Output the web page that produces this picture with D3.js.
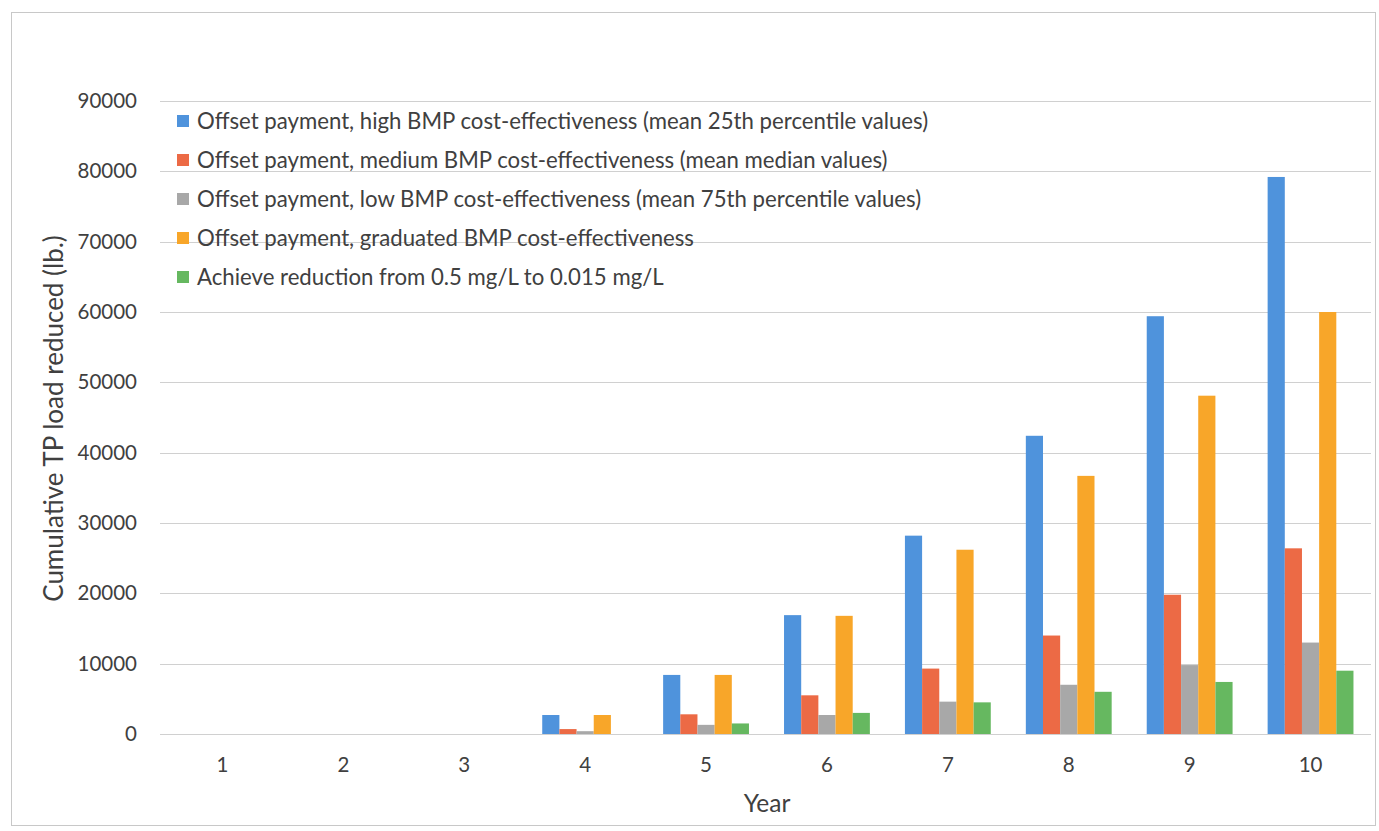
<!DOCTYPE html>
<html>
<head>
<meta charset="utf-8">
<script src="https://cdn.jsdelivr.net/npm/d3@7.9.0/dist/d3.min.js"></script>
<style>
  body { margin: 0; background: #fff; }
  svg text { font-family: Lato, "Open Sans", sans-serif; fill: #404040; }
</style>
</head>
<body>
<svg id="chart" width="1379" height="831"></svg>
<script>
// years along the x axis
const years = ['1', '2', '3', '4', '5', '6', '7', '8', '9', '10'];

// series labels (legend order)
const seriesNames = [
  'Offset payment, high BMP cost-effectiveness (mean 25th percentile values)',
  'Offset payment, medium BMP cost-effectiveness (mean median values)',
  'Offset payment, low BMP cost-effectiveness (mean 75th percentile values)',
  'Offset payment, graduated BMP cost-effectiveness',
  'Achieve reduction from 0.5 mg/L to 0.015 mg/L'
];
const seriesColors = ['#4f93dc', '#ec6a45', '#a8a8a8', '#f8a629', '#66b860'];

// cumulative TP load reduced (lb.)
const highValues      = [0, 0, 0, 2700, 8400, 16900, 28200, 42400, 59400, 79200];
const mediumValues    = [0, 0, 0, 700, 2800, 5500, 9300, 14000, 19800, 26400];
const lowValues       = [0, 0, 0, 400, 1300, 2700, 4600, 7000, 9800, 13000];
const graduatedValues = [0, 0, 0, 2700, 8400, 16800, 26200, 36700, 48100, 60000];
const achieveValues   = [0, 0, 0, 0, 1500, 3000, 4500, 6000, 7400, 9000];

const yTicks = [0, 10000, 20000, 30000, 40000, 50000, 60000, 70000, 80000, 90000];

const allSeries = [highValues, mediumValues, lowValues, graduatedValues, achieveValues];

const svg = d3.select('#chart');
const width = 1379, height = 831;
const margin = { top: 101, right: 8, bottom: 97, left: 162 };

// outer frame
svg.append('rect')
  .attr('x', 11.5).attr('y', 12.5)
  .attr('width', width - 15).attr('height', height - 18)
  .attr('fill', 'none').attr('stroke', '#c8c8c8');

const x = d3.scaleBand()
  .domain(years)
  .range([margin.left, width - margin.right])
  .paddingInner(0.29)
  .paddingOuter(0.145);

const xSub = d3.scaleBand()
  .domain(d3.range(seriesNames.length))
  .range([0, x.bandwidth()]);

const y = d3.scaleLinear()
  .domain([0, 90000])
  .range([height - margin.bottom, margin.top]);

// gridlines
svg.append('g')
  .selectAll('line')
  .data(yTicks)
  .join('line')
  .attr('x1', margin.left - 2).attr('x2', width - margin.right)
  .attr('y1', d => Math.round(y(d)) + 0.5).attr('y2', d => Math.round(y(d)) + 0.5)
  .attr('stroke', '#d0d0d0').attr('stroke-width', 1.2);

// y axis labels
const yAxis = svg.append('g')
  .attr('transform', `translate(${margin.left - 22},0)`)
  .call(d3.axisLeft(y).tickValues(yTicks).tickSize(0).tickFormat(d3.format('d')));
yAxis.select('.domain').remove();
yAxis.selectAll('text').attr('font-size', 20.5).style('fill', '#404040');

// x axis labels
const xAxis = svg.append('g')
  .attr('transform', `translate(0,${height - margin.bottom})`)
  .call(d3.axisBottom(x).tickSize(0).tickPadding(23));
xAxis.select('.domain').remove();
xAxis.selectAll('text').attr('font-size', 20.5).style('fill', '#404040');

// bars
const groups = svg.append('g')
  .selectAll('g')
  .data(allSeries)
  .join('g')
  .attr('fill', (d, i) => seriesColors[i]);

groups.each(function (vals, si) {
  d3.select(this).selectAll('rect')
    .data(vals.map((v, yi) => ({ year: years[yi], v })))
    .join('rect')
    .attr('x', d => x(d.year) + xSub(si))
    .attr('width', xSub.bandwidth())
    .attr('y', d => y(d.v))
    .attr('height', d => y(0) - y(d.v));
});

// legend
const legend = svg.append('g').attr('transform', 'translate(177,121)');
const items = legend.selectAll('g')
  .data(seriesNames)
  .join('g')
  .attr('transform', (d, i) => `translate(0,${i * 39})`);
items.append('rect')
  .attr('x', 0).attr('y', -6).attr('width', 12).attr('height', 12)
  .attr('fill', (d, i) => seriesColors[i]);
items.append('text')
  .attr('x', 20).attr('y', 0).attr('dy', '0.36em')
  .attr('font-size', 22.2)
  .text(d => d);

// axis titles
svg.append('text')
  .attr('transform', `translate(63,${(margin.top + height - margin.bottom) / 2 + 1}) rotate(-90)`)
  .attr('text-anchor', 'middle')
  .attr('font-size', 26)
  .text('Cumulative TP load reduced (lb.)');

svg.append('text')
  .attr('x', 767).attr('y', 812)
  .attr('text-anchor', 'middle')
  .attr('font-size', 24.5)
  .text('Year');
</script>
</body>
</html>
